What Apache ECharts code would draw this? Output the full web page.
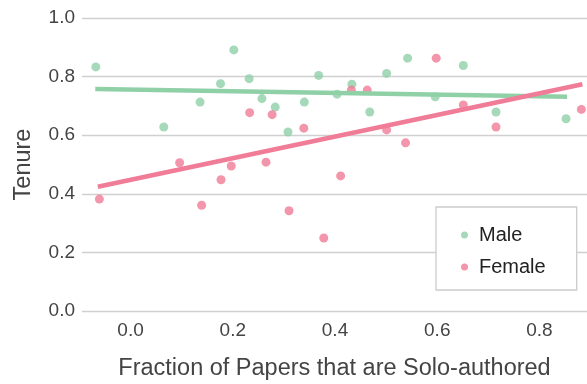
<!DOCTYPE html>
<html>
<head>
<meta charset="utf-8">
<script src="https://cdn.jsdelivr.net/npm/echarts@6/dist/echarts.min.js"></script>
<style>
  html, body { margin: 0; padding: 0; background: #fff; }
  #chart { width: 587px; height: 384px; }
</style>
</head>
<body>
<div id="chart"></div>
<script>
// values
var maleX = [-0.068, 0.065, 0.136, 0.176, 0.202, 0.232, 0.257, 0.283, 0.308, 0.340,
             0.368, 0.404, 0.433, 0.468, 0.501, 0.542, 0.596, 0.651, 0.715, 0.852];
var maleY = [0.833, 0.628, 0.713, 0.776, 0.891, 0.793, 0.725, 0.696, 0.611, 0.713,
             0.804, 0.740, 0.774, 0.679, 0.811, 0.863, 0.731, 0.838, 0.679, 0.656];
var femaleX = [-0.061, 0.096, 0.139, 0.177, 0.197, 0.233, 0.265, 0.277, 0.310, 0.339,
               0.378, 0.411, 0.432, 0.463, 0.501, 0.538, 0.598, 0.651, 0.715, 0.882];
var femaleY = [0.382, 0.506, 0.361, 0.448, 0.495, 0.677, 0.508, 0.670, 0.342, 0.624,
               0.249, 0.461, 0.754, 0.754, 0.618, 0.574, 0.863, 0.703, 0.628, 0.688];
// fitted lines, endpoints as drawn
var maleFit = [[-0.069, 0.758], [0.854, 0.731]];
var femaleFit = [[-0.064, 0.424], [0.884, 0.774]];
var xTicks = [0, 0.2, 0.4, 0.6, 0.8];

var green = '#8fd0a7';
var pink = '#f07c97';
var font = 'Liberation Sans';
var textColor = '#444';

function pairs(xs, ys) {
  var out = [];
  for (var i = 0; i < xs.length; i++) out.push([xs[i], ys[i]]);
  return out;
}

var chart = echarts.init(document.getElementById('chart'));
var option = {
  animation: false,
  grid: { left: 82, right: 0, top: 18, bottom: 73, outerBoundsMode: 'none' },
  xAxis: {
    type: 'value',
    min: -0.095, max: 0.893,
    name: 'Fraction of Papers that are Solo-authored',
    nameLocation: 'middle',
    nameGap: 46,
    nameTextStyle: { fontFamily: font, fontSize: 23.5, color: textColor },
    axisLine: { show: false },
    axisTick: { show: false },
    splitLine: { show: false },
    axisLabel: {
      customValues: xTicks,
      margin: 10,
      fontFamily: font, fontSize: 19, color: textColor,
      formatter: function (v) { return v.toFixed(1); }
    }
  },
  yAxis: {
    type: 'value',
    min: 0, max: 1, interval: 0.2,
    name: 'Tenure',
    nameLocation: 'middle',
    nameGap: 46,
    nameTextStyle: { fontFamily: font, fontSize: 23.5, color: textColor },
    axisLine: { show: false },
    axisTick: { show: false },
    splitLine: { lineStyle: { color: '#d0d0d0', width: 1.3 } },
    axisLabel: {
      margin: 7,
      fontFamily: font, fontSize: 19, color: textColor,
      formatter: function (v) { return v.toFixed(1); }
    }
  },
  legend: {
    data: ['Male', 'Female'],
    orient: 'vertical',
    left: 436, top: 207,
    icon: 'circle',
    itemWidth: 7, itemHeight: 7,
    itemGap: 12,
    padding: [18, 31, 13, 25],
    backgroundColor: '#fff',
    borderColor: '#cccccc',
    borderWidth: 1.3,
    borderRadius: 0,
    textStyle: { fontFamily: font, fontSize: 20, color: '#222', lineHeight: 20, padding: [0, 0, 0, 6] }
  },
  series: [
    {
      name: 'Male', type: 'scatter',
      data: pairs(maleX, maleY),
      symbolSize: 9,
      itemStyle: { color: green }
    },
    {
      name: 'Male fit', type: 'line',
      data: maleFit,
      showSymbol: false,
      lineStyle: { color: green, width: 4.5 },
      itemStyle: { color: green }
    },
    {
      name: 'Female', type: 'scatter',
      data: pairs(femaleX, femaleY),
      symbolSize: 9,
      itemStyle: { color: pink }
    },
    {
      name: 'Female fit', type: 'line',
      data: femaleFit,
      showSymbol: false,
      lineStyle: { color: pink, width: 4.5 },
      itemStyle: { color: pink }
    }
  ]
};
chart.setOption(option);
</script>
</body>
</html>
